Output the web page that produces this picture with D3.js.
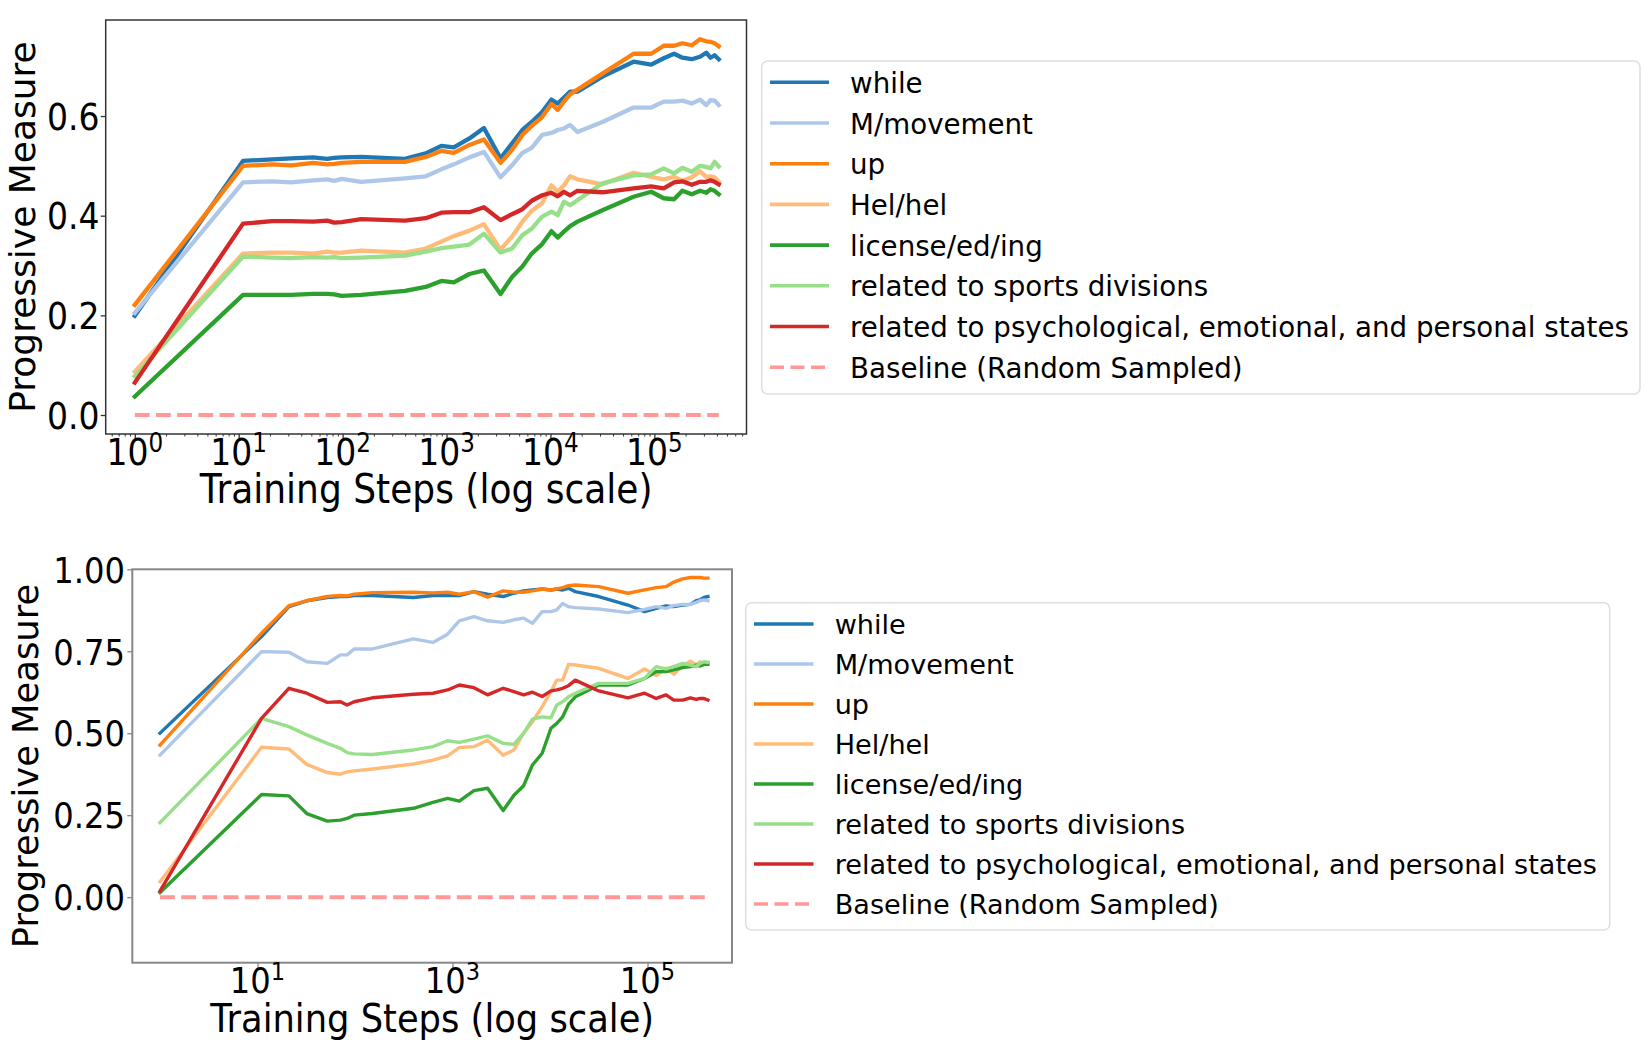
<!DOCTYPE html>
<html>
<head>
<meta charset="utf-8">
<script src="https://cdn.jsdelivr.net/npm/d3@7"></script>
<style>
body { margin: 0; background: #fff; }
text { font-family: "DejaVu Sans", sans-serif; fill: #000; }
</style>
</head>
<body>
<svg id="vis" width="1645" height="1058"></svg>
<script>
// checkpoints (training steps), shared by both panels
const steps = [1, 11, 21, 32, 52, 71, 83, 98, 151, 398, 631, 891, 1175, 1660, 2291, 3311,
    4266, 5370, 6607, 8318, 10233, 11749, 13490, 15488, 18197, 31623, 63096, 93325,
    123027, 154882, 186209, 229087, 275423, 316228, 346737, 380189, 416869]

const labels = ['while', 'M/movement', 'up', 'Hel/hel', 'license/ed/ing',
    'related to sports divisions', 'related to psychological, emotional, and personal states']
const baselineLabel = 'Baseline (Random Sampled)'
const colors = ['#1f77b4', '#aec7e8', '#ff7f0e', '#ffbb78', '#2ca02c', '#98df8a', '#d62728']
const baselineColor = '#ff9896'

// top panel
const topWhile = [.199, .510, .513, .515, .517, .514, .516, .517, .518, .514, .525, .540, .537, .555, .576, .515,
    .545, .572, .588, .608, .633, .625, .637, .649, .649, .679, .709, .703, .716, .725, .717, .714, .719, .727, .717, .722, .714]
const topMovement = [.205, .467, .469, .467, .471, .473, .470, .474, .468, .475, .479, .493, .503, .517, .528, .477,
    .501, .526, .536, .562, .566, .572, .575, .582, .568, .588, .617, .617, .629, .629, .631, .625, .633, .622, .632, .631, .622]
const topUp = [.221, .500, .503, .501, .506, .503, .504, .506, .508, .508, .518, .530, .526, .542, .553, .506,
    .532, .562, .580, .598, .624, .612, .629, .644, .653, .685, .725, .725, .741, .741, .746, .742, .754, .750, .749, .746, .740]
const topHel = [.087, .324, .326, .326, .324, .328, .326, .326, .330, .326, .334, .348, .359, .370, .383, .332,
    .358, .388, .410, .425, .461, .448, .461, .479, .473, .463, .486, .478, .473, .478, .470, .477, .489, .478, .479, .477, .468]
const topLicense = [.037, .241, .241, .241, .243, .243, .242, .239, .241, .249, .257, .269, .266, .283, .290, .243,
    .277, .298, .324, .343, .369, .356, .368, .379, .388, .411, .438, .448, .435, .433, .450, .443, .450, .446, .453, .450, .443]
const topSports = [.078, .318, .316, .315, .317, .316, .317, .315, .316, .320, .328, .335, .338, .342, .364, .326,
    .334, .361, .374, .398, .408, .401, .428, .421, .431, .465, .481, .483, .495, .485, .496, .488, .500, .498, .495, .508, .499]
const topPsych = [.065, .384, .389, .389, .388, .390, .386, .387, .393, .390, .395, .406, .407, .407, .417, .391,
    .403, .413, .430, .441, .446, .439, .448, .441, .450, .447, .455, .459, .455, .467, .469, .462, .468, .468, .471, .468, .463]

// bottom panel
const bottomWhile = [.500, .795, .886, .904, .914, .917, .917, .920, .920, .914, .920, .920, .920, .932, .924, .917,
    .927, .934, .937, .940, .937, .940, .937, .942, .932, .917, .891, .871, .881, .888, .886, .891, .893, .904, .907, .914, .917]
const bottomMovement = [.433, .749, .747, .718, .713, .739, .739, .757, .757, .788, .777, .802, .843, .856, .843, .838,
    .846, .851, .835, .871, .871, .876, .896, .886, .883, .879, .868, .878, .886, .881, .889, .893, .893, .899, .904, .907, .904]
const bottomUp = [.464, .805, .889, .904, .917, .920, .919, .924, .929, .930, .928, .930, .924, .932, .915, .934,
    .930, .930, .934, .940, .937, .940, .944, .950, .952, .947, .927, .937, .944, .947, .961, .971, .975, .975, .975, .973, .973]
const bottomHel = [.047, .457, .452, .405, .380, .375, .382, .385, .391, .406, .418, .431, .456, .459, .479, .433,
    .449, .500, .535, .581, .627, .662, .662, .710, .708, .698, .667, .696, .676, .698, .680, .706, .720, .708, .718, .714, .716]
const bottomLicense = [.014, .313, .309, .255, .232, .235, .240, .250, .255, .271, .289, .301, .293, .325, .332, .264,
    .311, .340, .403, .439, .515, .530, .550, .588, .611, .647, .647, .667, .688, .688, .693, .700, .703, .708, .705, .710, .710]
const bottomSports = [.227, .545, .520, .495, .469, .454, .441, .437, .435, .449, .459, .477, .472, .482, .492, .469,
    .466, .500, .543, .550, .547, .586, .596, .611, .622, .652, .652, .667, .703, .696, .703, .713, .708, .703, .713, .718, .716]
const bottomPsych = [.018, .545, .637, .622, .594, .596, .586, .596, .608, .619, .622, .632, .647, .639, .617, .637,
    .627, .617, .625, .612, .629, .632, .637, .645, .662, .629, .608, .622, .606, .617, .601, .601, .608, .603, .606, .606, .601]

const topYTicks = [0, 0.2, 0.4, 0.6]
const bottomYTicks = [0, 0.25, 0.5, 0.75, 1.0]
const topXTicks = [1, 10, 100, 1000, 10000, 100000]
const bottomXTicks = [10, 1000, 100000]

// layout of the two panels
// (the source figure was squeezed sideways, so tick labels and x titles get a vertical stretch sy)
const panels = [
    {
        series: [topWhile, topMovement, topUp, topHel, topLicense, topSports, topPsych],
        left: 105.7, right: 746.5, top: 20, bottom: 434,
        xLim: [-0.28, 5.887], yLim: [-0.0381, 0.7927],
        yTicks: topYTicks, yFmt: '.1f', xTicks: topXTicks, minor: true,
        lw: 4.3, spine: '#333', spineW: 1.5,
        tickFont: 33, labelFont: 36, legendFont: 27.7, sy: 1.13,
        yTickX: 99.4, xTickBase: 465, xLabelBase: 503, yLabelX: 35,
        legend: {x: 761.7, y: 61, w: 878.3, h: 333, hx: 770, hlen: 59, tx: 850, row0: 82.3, step: 40.7, lw: 3.6}
    },
    {
        series: [bottomWhile, bottomMovement, bottomUp, bottomHel, bottomLicense, bottomSports, bottomPsych],
        left: 132.3, right: 732, top: 569.3, bottom: 962.7,
        xLim: [-0.284, 5.867], yLim: [-0.2, 1.0],
        yTicks: bottomYTicks, yFmt: '.2f', xTicks: bottomXTicks, minor: false,
        lw: 3.4, spine: '#888', spineW: 2,
        tickFont: 32.2, labelFont: 35.3, legendFont: 27.1, sy: 1.13,
        yTickX: 125, xTickBase: 993, xLabelBase: 1032, yLabelX: 38,
        legend: {x: 745.7, y: 602.7, w: 864, h: 327.3, hx: 754, hlen: 59.5, tx: 834.7, row0: 624, step: 40, lw: 3.4}
    }
]

const svg = d3.select('#vis')
svg.append('rect').attr('width', 1645).attr('height', 1058).attr('fill', '#fff')

panels.forEach((p, pi) => drawPanel(p, pi))

function drawPanel(p, pi){
    let x = d3.scaleLog()
        .domain([Math.pow(10, p.xLim[0]), Math.pow(10, p.xLim[1])])
        .range([p.left, p.right])
    let y = d3.scaleLinear()
        .domain(p.yLim)
        .range([p.bottom, p.top])

    let g = svg.append('g')

    g.append('clipPath').attr('id', 'clip' + pi)
        .append('rect')
        .attr('x', p.left).attr('y', p.top)
        .attr('width', p.right - p.left).attr('height', p.bottom - p.top)

    let line = d3.line()
        .x(d => x(d[0]))
        .y(d => y(d[1]))

    let plot = g.append('g').attr('clip-path', 'url(#clip' + pi + ')')

    p.series.forEach((vals, i) => {
        plot.append('path')
            .datum(steps.map((s, j) => [s, vals[j]]))
            .attr('d', line)
            .attr('fill', 'none')
            .attr('stroke', colors[i])
            .attr('stroke-width', p.lw)
            .attr('stroke-linejoin', 'round')
            .attr('stroke-linecap', 'square')
    })

    // random baseline at zero
    plot.append('path')
        .datum([[steps[0], 0], [steps[steps.length - 1], 0]])
        .attr('d', line)
        .attr('fill', 'none')
        .attr('stroke', baselineColor)
        .attr('stroke-width', 4)
        .attr('stroke-dasharray', '14.8,6.4')

    // axes
    let xAxis = d3.axisBottom(x).tickValues(p.xTicks).tickSize(5).tickFormat('')
    let xg = g.append('g').attr('transform', `translate(0,${p.bottom})`).call(xAxis)
    if (p.minor) {
        let minorTicks = x.ticks().filter(t => p.xTicks.indexOf(t) < 0)
        g.append('g').attr('transform', `translate(0,${p.bottom})`)
            .call(d3.axisBottom(x).tickValues(minorTicks).tickSize(2.5).tickFormat(''))
            .call(a => a.select('.domain').remove())
            .selectAll('line').attr('stroke', p.spine).attr('stroke-width', 1)
    }
    let yAxis = d3.axisLeft(y).tickValues(p.yTicks).tickSize(5).tickFormat('')
    let yg = g.append('g').attr('transform', `translate(${p.left},0)`).call(yAxis)
    ;[xg, yg].forEach(a => {
        a.select('.domain').remove()
        a.selectAll('line').attr('stroke', p.spine).attr('stroke-width', 1.3)
    })

    g.append('rect')
        .attr('x', p.left).attr('y', p.top)
        .attr('width', p.right - p.left).attr('height', p.bottom - p.top)
        .attr('fill', 'none')
        .attr('stroke', p.spine)
        .attr('stroke-width', p.spineW)

    // tick labels
    let fmt = d3.format(p.yFmt)
    g.selectAll('.ylab').data(p.yTicks).join('text')
        .attr('transform', d => `translate(${p.yTickX},${y(d) + 0.365 * p.tickFont * p.sy}) scale(1,${p.sy})`)
        .attr('text-anchor', 'end')
        .style('font-size', p.tickFont + 'px')
        .text(d => fmt(d))

    let xl = g.selectAll('.xlab').data(p.xTicks).join('text')
        .attr('transform', d => `translate(${x(d)},${p.xTickBase}) scale(1,${p.sy})`)
        .attr('text-anchor', 'middle')
        .style('font-size', p.tickFont + 'px')
    xl.append('tspan').text('10')
    xl.append('tspan')
        .attr('dy', -0.36 * p.tickFont)
        .style('font-size', (0.7 * p.tickFont) + 'px')
        .text(d => Math.round(Math.log10(d)))

    // axis titles
    g.append('text')
        .attr('transform', `translate(${(p.left + p.right) / 2},${p.xLabelBase}) scale(1,${p.sy})`)
        .attr('text-anchor', 'middle')
        .style('font-size', p.labelFont + 'px')
        .text('Training Steps (log scale)')

    g.append('text')
        .attr('transform', `translate(${p.yLabelX},${(p.top + p.bottom) / 2}) rotate(-90)`)
        .attr('text-anchor', 'middle')
        .style('font-size', p.labelFont + 'px')
        .text('Progressive Measure')

    drawLegend(g, p)
}

function drawLegend(g, p){
    let L = p.legend
    let lg = g.append('g')
    lg.append('rect')
        .attr('x', L.x).attr('y', L.y)
        .attr('width', L.w).attr('height', L.h)
        .attr('rx', 6)
        .attr('fill', '#fff')
        .attr('stroke', '#dedede')
        .attr('stroke-width', 1.5)

    let items = labels.map((d, i) => ({label: d, color: colors[i], dash: null}))
    items.push({label: baselineLabel, color: baselineColor, dash: '14.8,6.4'})

    items.forEach((it, i) => {
        let cy = L.row0 + i * L.step
        lg.append('line')
            .attr('x1', L.hx).attr('x2', L.hx + L.hlen)
            .attr('y1', cy).attr('y2', cy)
            .attr('stroke', it.color)
            .attr('stroke-width', L.lw)
            .attr('stroke-dasharray', it.dash ? '14,6.5' : null)
        lg.append('text')
            .attr('x', L.tx)
            .attr('y', cy + 0.38 * p.legendFont)
            .style('font-size', p.legendFont + 'px')
            .text(it.label)
    })
}
</script>
</body>
</html>
